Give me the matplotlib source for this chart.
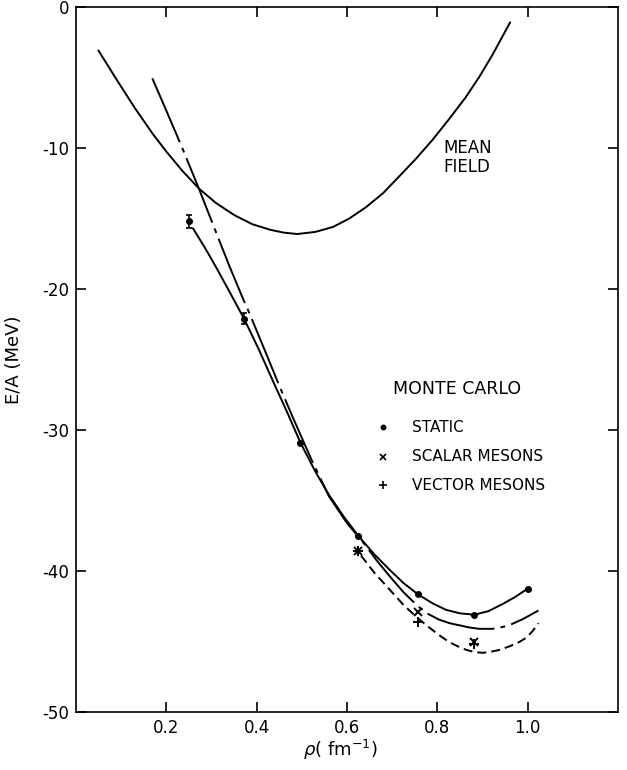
import matplotlib
matplotlib.use("Agg")
import matplotlib.pyplot as plt

plt.rcParams["font.family"] = "DejaVu Sans"
plt.rcParams["axes.unicode_minus"] = False
plt.rcParams["lines.scale_dashes"] = False

# mean field curve
mf_rho = [0.05, 0.09, 0.13, 0.17, 0.20, 0.235, 0.273, 0.31, 0.35, 0.39, 0.43, 0.46, 0.49,
          0.53, 0.569, 0.605, 0.642, 0.68, 0.716, 0.753, 0.79, 0.826, 0.863, 0.893, 0.922, 0.961]
mf_e = [-3.1, -5.15, -7.15, -9.0, -10.25, -11.6, -12.9, -13.9, -14.75, -15.4, -15.8, -16.0, -16.1,
        -15.95, -15.6, -15.0, -14.2, -13.2, -12.0, -10.75, -9.4, -7.95, -6.4, -4.95, -3.4, -1.1]

# Monte Carlo points
static_rho = [0.25, 0.372, 0.497, 0.625, 0.757, 0.882, 1.0]
static_e = [-15.2, -22.1, -30.9, -37.5, -41.65, -43.1, -41.25]
static_err = [0.45, 0.38, 0.0, 0.0, 0.0, 0.0, 0.0]

scalar_rho = [0.624, 0.757, 0.882]
scalar_e = [-38.6, -42.9, -45.0]

vector_rho = [0.624, 0.757, 0.882]
vector_e = [-38.6, -43.6, -45.2]

# fitted curves through the Monte Carlo results
static_curve_rho = [0.259, 0.285, 0.311, 0.34, 0.372, 0.405, 0.435, 0.467, 0.497, 0.53, 0.56, 0.593,
                    0.625, 0.66, 0.694, 0.725, 0.757, 0.79, 0.819, 0.85, 0.882, 0.913, 0.944, 0.972, 1.0]
static_curve_e = [-15.7, -17.05, -18.5, -20.2, -22.1, -24.3, -26.45, -28.7, -30.9, -32.95, -34.6, -36.15,
                  -37.5, -38.8, -39.9, -40.85, -41.65, -42.3, -42.75, -43.0, -43.1, -42.85, -42.35, -41.85, -41.25]

scalar_curve_rho = [0.169, 0.20, 0.234, 0.273, 0.311, 0.34, 0.366, 0.385, 0.42, 0.45, 0.48, 0.52, 0.56,
                    0.6, 0.639, 0.667, 0.694, 0.725, 0.757, 0.78, 0.804, 0.827, 0.849, 0.87, 0.893,
                    0.922, 0.94, 0.959, 0.99, 1.024]
scalar_curve_e = [-5.06, -7.35, -9.9, -12.95, -16.05, -18.4, -20.4, -21.8, -24.5, -26.85, -29.1, -32.0, -34.7,
                  -36.6, -38.1, -39.3, -40.35, -41.5, -42.5, -43.05, -43.45, -43.7, -43.85, -44.0, -44.1,
                  -44.1, -44.0, -43.85, -43.4, -42.8]

vector_curve_rho = [0.631, 0.66, 0.694, 0.725, 0.757, 0.78, 0.804, 0.827, 0.849, 0.865, 0.882, 0.9,
                    0.915, 0.937, 0.959, 0.978, 0.996, 1.01, 1.024]
vector_curve_e = [-38.9, -40.1, -41.3, -42.4, -43.35, -43.95, -44.55, -45.05, -45.4, -45.6, -45.75, -45.8,
                  -45.75, -45.6, -45.35, -45.1, -44.75, -44.3, -43.7]

xticks = [0.2, 0.4, 0.6, 0.8, 1.0]
yticks = [0, -10, -20, -30, -40, -50]

fig = plt.figure(figsize=(6.27, 7.70), dpi=100)
ax = fig.add_axes([0.1212, 0.0753, 0.8644, 0.9156])

lw = 1.4
ax.plot(mf_rho, mf_e, color="black", lw=lw)
ax.plot(static_curve_rho, static_curve_e, color="black", lw=lw)
ax.plot(scalar_curve_rho, scalar_curve_e, color="black", lw=lw,
        dashes=(50, 4.5, 3.5, 4.5))
ax.plot(vector_curve_rho, vector_curve_e, color="black", lw=lw,
        dashes=(6.5, 3.6))

ax.errorbar(static_rho, static_e, yerr=static_err, fmt="o", color="black",
            ms=4, capsize=2.5, elinewidth=1.2, capthick=1.2)
ax.plot(scalar_rho, scalar_e, "x", color="black", ms=6, mew=1.4)
ax.plot(vector_rho, vector_e, "+", color="black", ms=7, mew=1.4)

ax.set_xlim(0, 1.2)
ax.set_ylim(-50, 0)
ax.set_xticks(xticks)
ax.set_xticklabels(["0.2", "0.4", "0.6", "0.8", "1.0"])
ax.set_yticks(yticks)
ax.set_yticklabels(["0", "-10", "-20", "-30", "-40", "-50"])
ax.tick_params(direction="in", length=7, width=1.2, labelsize=12, pad=5,
               top=True, right=True)
for s in ax.spines.values():
    s.set_linewidth(1.2)

ax.set_ylabel("E/A (MeV)", fontsize=13)
ax.yaxis.set_label_coords(-0.098, 0.5)
ax.set_xlabel(r"$\rho$( fm$^{-1}$)", fontsize=13)
ax.xaxis.set_label_coords(0.487, -0.054)
ax.xaxis.label.set_verticalalignment("center")

ax.text(0.677, 0.787, "MEAN\nFIELD", transform=ax.transAxes, fontsize=12,
        ha="left", va="center", linespacing=1.05)

# Monte Carlo key
ax.text(0.704, 0.458, "MONTE CARLO", transform=ax.transAxes, fontsize=12.5,
        ha="center", va="center")
key_labels = ["STATIC", "SCALAR MESONS", "VECTOR MESONS"]
key_markers = ["o", "x", "+"]
key_sizes = [3, 5, 6]
key_y = [0.404, 0.362, 0.322]
for lab, m, ms, y in zip(key_labels, key_markers, key_sizes, key_y):
    ax.plot([0.566], [y], m, color="black", ms=ms, mew=1.2, transform=ax.transAxes)
    ax.text(0.620, y, lab, transform=ax.transAxes, fontsize=11,
            ha="left", va="center")

fig.savefig("out.png", dpi=100)
